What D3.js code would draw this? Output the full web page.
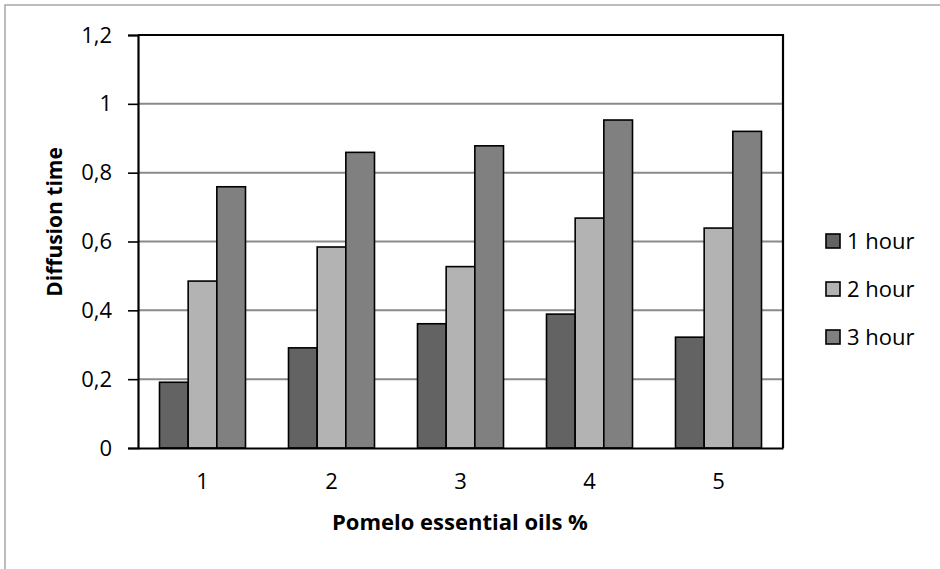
<!DOCTYPE html>
<html>
<head>
<meta charset="utf-8">
<script src="https://cdn.jsdelivr.net/npm/d3@7"></script>
<style>
  html, body { margin: 0; padding: 0; background: #fff; }
  svg { display: block; font-family: "Open Sans", Lato, sans-serif; }
</style>
</head>
<body>
<svg id="chart" width="940" height="569"></svg>
<script>
// Concentrations of pomelo essential oil (%)
const categories = ["1", "2", "3", "4", "5"];
// Diffusion time readings per exposure period
const seriesNames = ["1 hour", "2 hour", "3 hour"];
const hour1 = [0.191, 0.291, 0.361, 0.389, 0.322];
const hour2 = [0.485, 0.584, 0.527, 0.668, 0.639];
const hour3 = [0.759, 0.859, 0.878, 0.953, 0.920];
const yTicks = [0, 0.2, 0.4, 0.6, 0.8, 1, 1.2];
const seriesColors = ["#636363", "#b3b3b3", "#808080"];

const seriesValues = [hour1, hour2, hour3];
const FONT = "'Open Sans', Lato, sans-serif";

const svg = d3.select("#chart");
const plot = { left: 138, right: 783, top: 35, bottom: 448 };

// Outer chart frame
svg.append("rect")
  .attr("x", 5).attr("y", 5).attr("width", 960).attr("height", 600)
  .attr("fill", "none").attr("stroke", "#a6a6a6").attr("stroke-width", 1.5);

const x0 = d3.scaleBand().domain(categories).range([plot.left, plot.right]).padding(0);
const gapShare = 0.75 / 4.5; // gap width 150% of one bar, split on both sides
const x1 = d3.scaleBand().domain(seriesNames)
  .range([x0.bandwidth() * gapShare, x0.bandwidth() * (1 - gapShare)]).padding(0);
const y = d3.scaleLinear().domain([0, 1.2]).range([plot.bottom, plot.top]);

const fmt = v => String(+v.toFixed(1)).replace(".", ",");

// Horizontal gridlines
svg.append("g")
  .selectAll("line")
  .data(yTicks.filter(t => t > 0 && t < 1.2))
  .join("line")
  .attr("x1", plot.left).attr("x2", plot.right)
  .attr("y1", d => y(d)).attr("y2", d => y(d))
  .attr("stroke", "#8a8a8a").attr("stroke-width", 2);

// Bars
const groups = svg.append("g")
  .selectAll("g")
  .data(categories)
  .join("g")
  .attr("transform", d => `translate(${x0(d)},0)`);

groups.selectAll("rect")
  .data((c, i) => seriesNames.map((s, k) => ({ s, k, v: seriesValues[k][i] })))
  .join("rect")
  .attr("x", d => x1(d.s))
  .attr("width", x1.bandwidth())
  .attr("y", d => y(d.v))
  .attr("height", d => y(0) - y(d.v))
  .attr("fill", d => seriesColors[d.k])
  .attr("stroke", "#000")
  .attr("stroke-width", 1.6);

// Plot area frame (top and right)
svg.append("path")
  .attr("d", `M${plot.left},${plot.top}H${plot.right}V${plot.bottom}`)
  .attr("fill", "none").attr("stroke", "#000").attr("stroke-width", 2.2);

// Y axis
const yAxis = svg.append("g")
  .attr("transform", `translate(${plot.left},0)`)
  .call(d3.axisLeft(y).tickValues(yTicks).tickSize(10).tickPadding(16).tickFormat(fmt));
yAxis.select(".domain").attr("stroke", "#000").attr("stroke-width", 2.2);
yAxis.selectAll(".tick line").attr("stroke", "#000").attr("stroke-width", 1.6);
yAxis.selectAll("text").attr("font-size", 22).attr("fill", "#000")
  .attr("font-family", FONT);

// X axis
const xAxis = svg.append("g")
  .attr("transform", `translate(0,${plot.bottom})`)
  .call(d3.axisBottom(x0).tickSize(0).tickPadding(25));
xAxis.select(".domain").attr("stroke", "#000").attr("stroke-width", 2.2);
xAxis.selectAll("text").attr("font-size", 22).attr("fill", "#000")
  .attr("font-family", FONT);

// Axis titles
svg.append("text")
  .attr("x", 460).attr("y", 530)
  .attr("text-anchor", "middle")
  .attr("font-size", 22).attr("font-weight", "bold")
  .text("Pomelo essential oils %");

svg.append("text")
  .attr("transform", "translate(62,222) rotate(-90)")
  .attr("text-anchor", "middle")
  .attr("font-size", 21).attr("font-weight", "bold")
  .text("Diffusion time");

// Legend
const legend = svg.append("g")
  .selectAll("g")
  .data(seriesNames)
  .join("g")
  .attr("transform", (d, i) => `translate(826,${241 + i * 48})`);

legend.append("rect")
  .attr("x", 0).attr("y", -7).attr("width", 14).attr("height", 14)
  .attr("fill", (d, i) => seriesColors[i])
  .attr("stroke", "#000").attr("stroke-width", 1.6);

legend.append("text")
  .attr("x", 21).attr("y", 0).attr("dy", "0.36em")
  .attr("font-size", 22)
  .text(d => d);
</script>
</body>
</html>
